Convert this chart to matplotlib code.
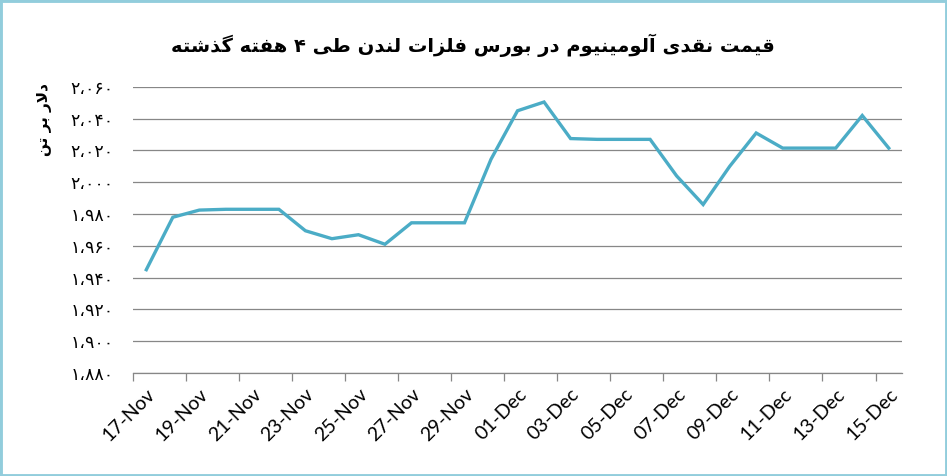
import numpy as np
import matplotlib
matplotlib.use("Agg")
import matplotlib.pyplot as plt
from matplotlib.patches import Rectangle

# Daily spot price, 17-Nov .. 15-Dec (29 days)
dates = ["17-Nov", "18-Nov", "19-Nov", "20-Nov", "21-Nov", "22-Nov", "23-Nov",
         "24-Nov", "25-Nov", "26-Nov", "27-Nov", "28-Nov", "29-Nov", "30-Nov",
         "01-Dec", "02-Dec", "03-Dec", "04-Dec", "05-Dec", "06-Dec", "07-Dec",
         "08-Dec", "09-Dec", "10-Dec", "11-Dec", "12-Dec", "13-Dec", "14-Dec",
         "15-Dec"]
prices = [1945, 1978, 1982.5, 1983, 1983, 1983, 1969.5, 1964.5, 1967, 1961,
          1974.5, 1974.5, 1974.5, 2014.5, 2045, 2050.5, 2027.5, 2027, 2027, 2027,
          2004, 1986, 2010, 2031, 2021.5, 2021.5, 2021.5, 2042, 2021.5]
y_ticks = [1880, 1900, 1920, 1940, 1960, 1980, 2000, 2020, 2040, 2060]

title_text = "قیمت نقدی آلومینیوم در بورس فلزات لندن طی ۴ هفته گذشته"
ylabel_text = "دلار بر تن"

# matplotlib does no Arabic shaping, so pick presentation forms by hand
FORMS = {
    'ا': ('\uFE8D', '\uFE8E', None, None),
    'آ': ('\uFE81', '\uFE82', None, None),
    'ب': ('\uFE8F', '\uFE90', '\uFE91', '\uFE92'),
    'ت': ('\uFE95', '\uFE96', '\uFE97', '\uFE98'),
    'د': ('\uFEA9', '\uFEAA', None, None),
    'ذ': ('\uFEAB', '\uFEAC', None, None),
    'ر': ('\uFEAD', '\uFEAE', None, None),
    'ز': ('\uFEAF', '\uFEB0', None, None),
    'س': ('\uFEB1', '\uFEB2', '\uFEB3', '\uFEB4'),
    'ش': ('\uFEB5', '\uFEB6', '\uFEB7', '\uFEB8'),
    'ط': ('\uFEC1', '\uFEC2', '\uFEC3', '\uFEC4'),
    'ف': ('\uFED1', '\uFED2', '\uFED3', '\uFED4'),
    'ق': ('\uFED5', '\uFED6', '\uFED7', '\uFED8'),
    'گ': ('\uFB92', '\uFB93', '\uFB94', '\uFB95'),
    'ل': ('\uFEDD', '\uFEDE', '\uFEDF', '\uFEE0'),
    'م': ('\uFEE1', '\uFEE2', '\uFEE3', '\uFEE4'),
    'ن': ('\uFEE5', '\uFEE6', '\uFEE7', '\uFEE8'),
    'ه': ('\uFEE9', '\uFEEA', '\uFEEB', '\uFEEC'),
    'و': ('\uFEED', '\uFEEE', None, None),
    'ی': ('\uFBFC', '\uFBFD', '\uFBFE', '\uFBFF'),
}
LAM_ALEF = {'ا': ('\uFEFB', '\uFEFC'), 'آ': ('\uFEF5', '\uFEF6')}


def shape(text):
    chars = list(text.replace('ي', 'ی').replace('ك', 'ک'))
    out = []
    i = 0
    while i < len(chars):
        c = chars[i]
        if c not in FORMS:
            out.append(c)
            i += 1
            continue
        prev = chars[i - 1] if i > 0 else None
        joins_prev = prev in FORMS and FORMS[prev][2] is not None
        if c == 'ل' and i + 1 < len(chars) and chars[i + 1] in LAM_ALEF:
            lig = LAM_ALEF[chars[i + 1]]
            out.append(lig[1] if joins_prev else lig[0])
            i += 2
            continue
        nxt = chars[i + 1] if i + 1 < len(chars) else None
        joins_next = FORMS[c][2] is not None and nxt in FORMS
        iso, fin, ini, med = FORMS[c]
        if joins_prev and joins_next:
            out.append(med)
        elif joins_prev:
            out.append(fin)
        elif joins_next:
            out.append(ini)
        else:
            out.append(iso)
        i += 1
    return ''.join(reversed(out))


def fa_number(v):
    s = f"{v:,}"
    return s.translate(str.maketrans("0123456789,", "۰۱۲۳۴۵۶۷۸۹،"))


fig = plt.figure(figsize=(9.47, 4.76), dpi=100)
ax = fig.add_axes([0.1405, 0.2164, 0.812, 0.601])

x = np.arange(len(dates))
ax.plot(x, prices, color="#4BACC6", linewidth=2.4, solid_joinstyle="miter")

ax.set_xlim(-0.5, len(dates) - 0.5)
ax.set_ylim(y_ticks[0], y_ticks[-1])
ax.set_yticks(y_ticks)
ax.set_yticklabels([fa_number(v) for v in y_ticks], family="DejaVu Sans", fontsize=12.5)
ax.yaxis.grid(True, color="#878787", linewidth=0.9)
ax.set_axisbelow(True)
ax.tick_params(axis="y", length=0, pad=14)

ax.set_xticks(x[::2])
ax.set_xticklabels(dates[::2], rotation=45, ha="right", rotation_mode="anchor",
                   family="Lato", fontsize=14)
ax.set_xticks(np.arange(-0.5, len(dates) - 1, 2), minor=True)
ax.tick_params(axis="x", which="major", length=0, pad=9)
ax.tick_params(axis="x", which="minor", length=6, width=0.9, color="#878787", direction="out")

for side in ["left", "right", "top"]:
    ax.spines[side].set_visible(False)
ax.spines["bottom"].set_color("#878787")
ax.spines["bottom"].set_linewidth(0.9)

fig.text(0.499, 0.905, shape(title_text), ha="center", va="center",
         family="DejaVu Sans", fontweight="bold", fontsize=14)
fig.text(0.047, 0.75, shape(ylabel_text), ha="center", va="center", rotation=90,
         family="DejaVu Sans", fontweight="bold", fontsize=11)

fig.patches.append(Rectangle((0, 0), 1, 1, transform=fig.transFigure, fill=False,
                             edgecolor="#92CDDC", linewidth=3.5))

fig.savefig("out.png", dpi=100)
